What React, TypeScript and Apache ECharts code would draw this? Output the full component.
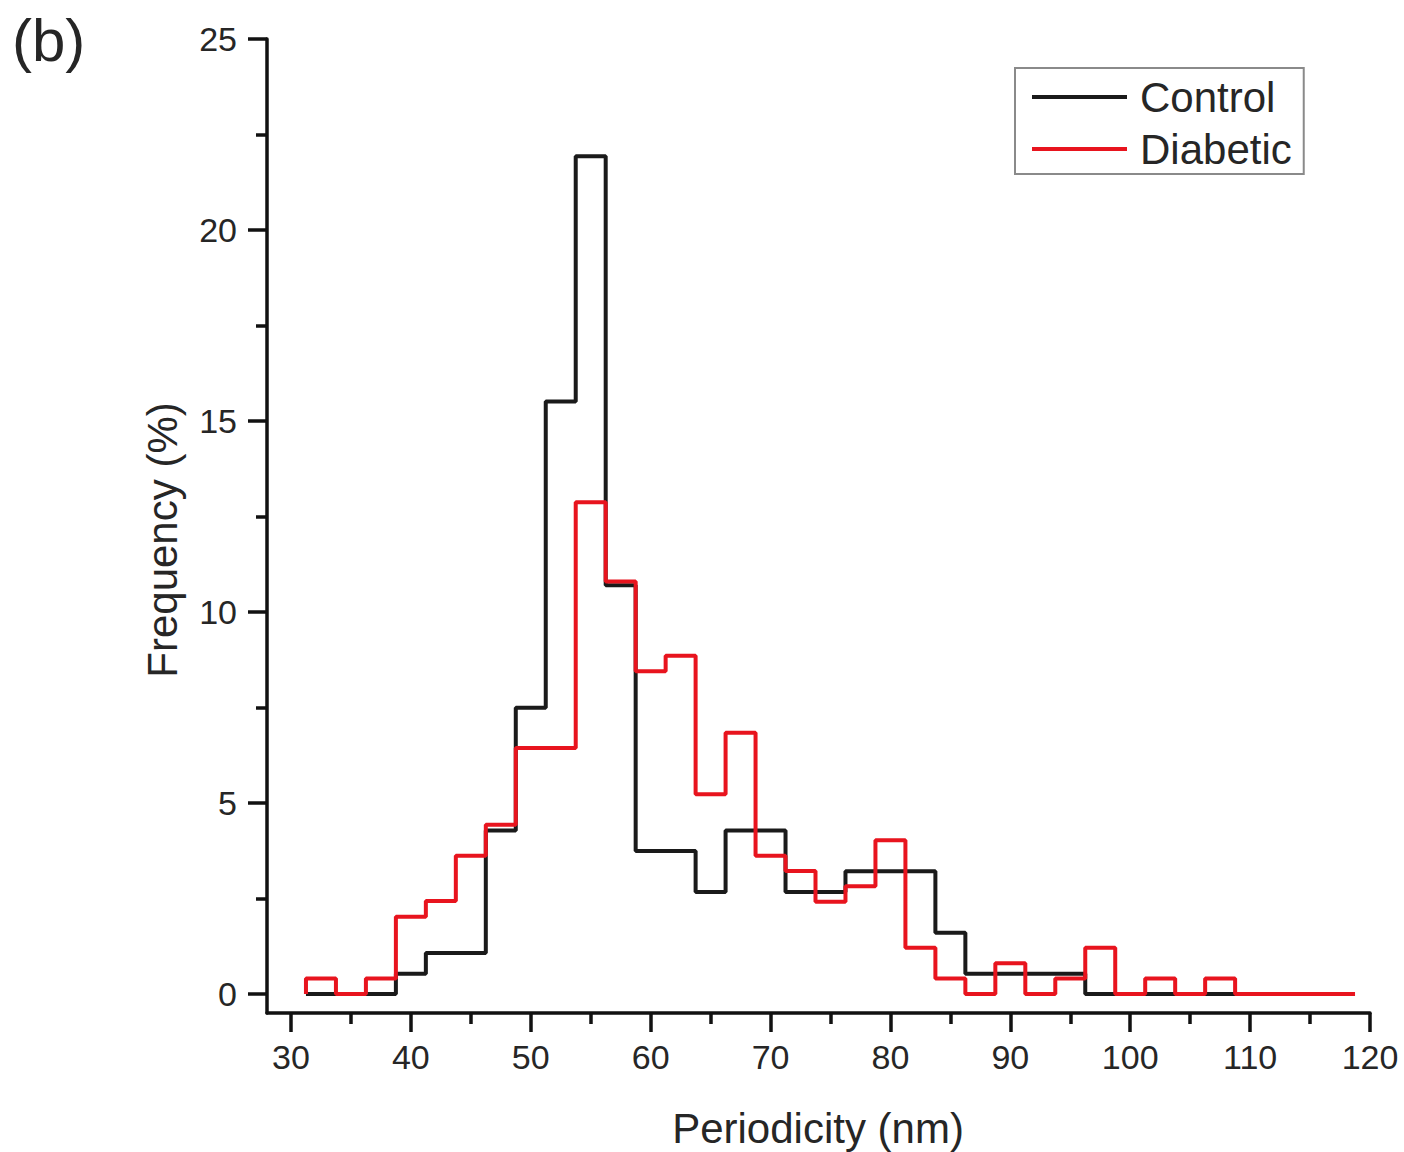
import React, { useEffect, useRef } from "react";
import * as echarts from "echarts";

// Histogram bins: left edge of first bin and bin width (nm)
const binStart = 31.25;
const binWidth = 2.5;

// Frequency (%) per bin
const controlValues = [
  0, 0, 0, 0.53, 1.07, 1.07, 4.28, 7.49, 15.51, 21.93, 10.7, 3.74, 3.74, 2.67,
  4.28, 4.28, 2.67, 2.67, 3.21, 3.21, 3.21, 1.6, 0.53, 0.53, 0.53, 0.53, 0, 0,
  0, 0, 0, 0, 0, 0, 0,
];
const diabeticValues = [
  0.4, 0, 0.4, 2.02, 2.43, 3.62, 4.43, 6.44, 6.44, 12.87, 10.8, 8.45, 8.85,
  5.23, 6.84, 3.62, 3.22, 2.41, 2.82, 4.02, 1.21, 0.4, 0, 0.8, 0, 0.4, 1.21, 0,
  0.4, 0, 0.4, 0, 0, 0, 0,
];

const xMajorTicks = [30, 40, 50, 60, 70, 80, 90, 100, 110, 120];
const xMinorTicks = [35, 45, 55, 65, 75, 85, 95, 105, 115];
const yMajorTicks = [0, 5, 10, 15, 20, 25];
const yMinorTicks = [2.5, 7.5, 12.5, 17.5, 22.5];

const seriesNames = ["Control", "Diabetic"];
const panelLabel = "(b)";
const xTitle = "Periodicity (nm)";
const yTitle = "Frequency (%)";

function stepPoints(values: number[]): number[][] {
  const pts: number[][] = [];
  pts.push([binStart, 0]);
  values.forEach((v, i) => {
    pts.push([binStart + i * binWidth, v]);
  });
  const endX = binStart + values.length * binWidth;
  pts.push([endX, values[values.length - 1]]);
  pts.push([endX, 0]);
  return pts;
}

const FONT = "'Liberation Sans', Arial, sans-serif";
const TEXT = "#262626";
const AXIS = "#111111";
const BLACK = "#1a1a1a";
const RED = "#e8141e";

export default function App() {
  const ref = useRef<HTMLDivElement>(null);
  useEffect(() => {
    if (!ref.current) return;
    const chart = echarts.init(ref.current, undefined, { renderer: "svg" });
    const xBase = {
      type: "value" as const,
      min: 28,
      max: 120,
      splitLine: { show: false },
      gridIndex: 0,
    };
    const yBase = {
      type: "value" as const,
      min: -0.5,
      max: 25,
      splitLine: { show: false },
      gridIndex: 0,
    };
    chart.setOption({
      animation: false,
      backgroundColor: "#ffffff",
      grid: { left: 267, right: 34, top: 39, bottom: 139 },
      xAxis: [
        {
          ...xBase,
          position: "bottom",
          axisLine: { show: true, onZero: false, lineStyle: { color: AXIS, width: 3.5 } },
          axisTick: {
            show: true,
            inside: false,
            length: 19,
            customValues: xMajorTicks,
            lineStyle: { color: AXIS, width: 3.5 },
          },
          axisLabel: {
            show: true,
            customValues: xMajorTicks,
            margin: 27,
            fontSize: 34,
            fontFamily: FONT,
            color: TEXT,
          },
        },
        {
          ...xBase,
          position: "bottom",
          axisLine: { show: false, onZero: false },
          axisTick: {
            show: true,
            inside: false,
            length: 11,
            customValues: xMinorTicks,
            lineStyle: { color: AXIS, width: 3.5 },
          },
          axisLabel: { show: false },
        },
      ],
      yAxis: [
        {
          ...yBase,
          position: "left",
          axisLine: { show: true, onZero: false, lineStyle: { color: AXIS, width: 3.5 } },
          axisTick: {
            show: true,
            inside: false,
            length: 19,
            customValues: yMajorTicks,
            lineStyle: { color: AXIS, width: 3.5 },
          },
          axisLabel: {
            show: true,
            customValues: yMajorTicks,
            margin: 30,
            fontSize: 34,
            fontFamily: FONT,
            color: TEXT,
          },
        },
        {
          ...yBase,
          position: "left",
          axisLine: { show: false, onZero: false },
          axisTick: {
            show: true,
            inside: false,
            length: 11,
            customValues: yMinorTicks,
            lineStyle: { color: AXIS, width: 3.5 },
          },
          axisLabel: { show: false },
        },
      ],
      legend: {
        left: 1015,
        top: 68,
        orient: "vertical",
        data: seriesNames.map((n) => ({ name: n, icon: "rect" })),
        itemWidth: 95,
        itemHeight: 4,
        itemGap: 4,
        padding: [5, 12, 1, 17],
        borderColor: "#8a8a8a",
        borderWidth: 2,
        backgroundColor: "#ffffff",
        textStyle: {
          fontSize: 42,
          fontFamily: FONT,
          color: TEXT,
          lineHeight: 48,
          padding: [0, 0, 0, 8],
        },
      },
      graphic: [
        {
          type: "text",
          left: 12,
          top: 10,
          style: { text: panelLabel, font: `60px ${FONT}`, fill: TEXT },
        },
        {
          type: "text",
          x: 818,
          y: 1128,
          style: {
            text: xTitle,
            font: `42px ${FONT}`,
            fill: TEXT,
            align: "center",
            verticalAlign: "middle",
          },
        },
        {
          type: "text",
          x: 162,
          y: 540,
          rotation: Math.PI / 2,
          style: {
            text: yTitle,
            font: `42px ${FONT}`,
            fill: TEXT,
            align: "center",
            verticalAlign: "middle",
          },
        },
      ],
      series: [
        {
          name: seriesNames[0],
          type: "line",
          step: "end",
          symbol: "none",
          xAxisIndex: 0,
          yAxisIndex: 0,
          data: stepPoints(controlValues),
          lineStyle: { color: BLACK, width: 4 },
          itemStyle: { color: BLACK },
          z: 2,
        },
        {
          name: seriesNames[1],
          type: "line",
          step: "end",
          symbol: "none",
          xAxisIndex: 0,
          yAxisIndex: 0,
          data: stepPoints(diabeticValues),
          lineStyle: { color: RED, width: 4 },
          itemStyle: { color: RED },
          z: 3,
        },
      ],
    });
    return () => chart.dispose();
  }, []);
  return (
    <div
      ref={ref}
      style={{ position: "absolute", left: 0, top: 0, width: 1404, height: 1152 }}
    />
  );
}
